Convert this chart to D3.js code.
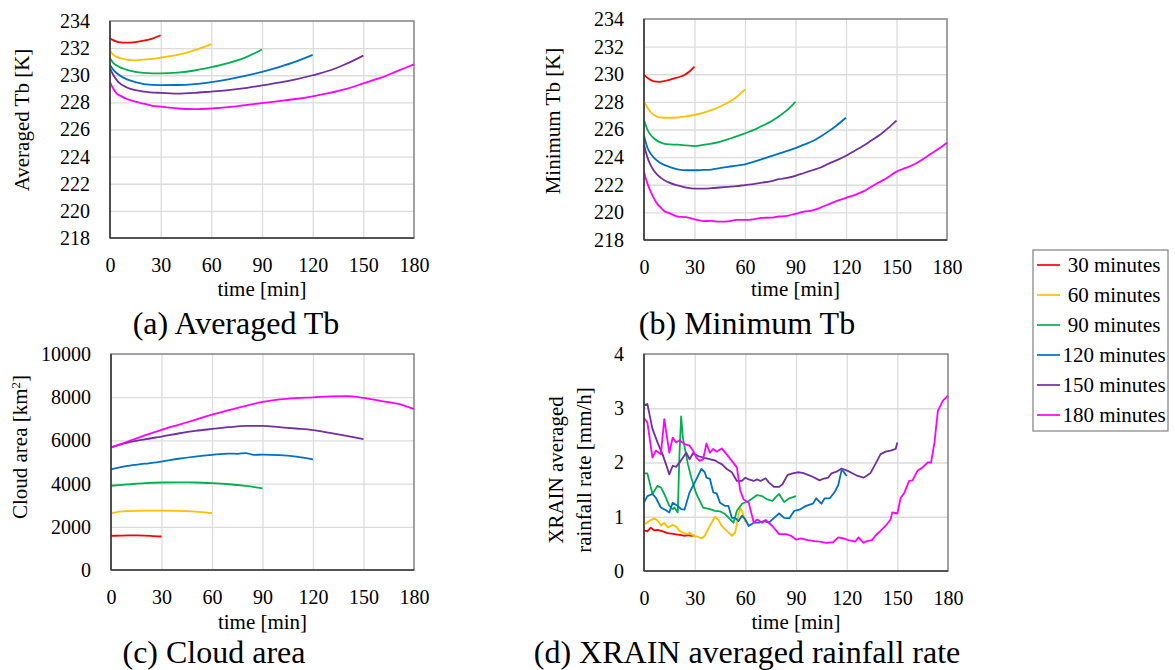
<!DOCTYPE html>
<html><head><meta charset="utf-8">
<script src="https://cdn.jsdelivr.net/npm/d3@7"></script>
<style>
html,body{margin:0;padding:0;background:#fff;}
svg text{font-family:"Liberation Serif","Times New Roman",serif;fill:#000;}
</style></head>
<body><svg id="c" width="1175" height="670"></svg>
<script>
// ---------- data ----------
const seriesNames = ["30 minutes","60 minutes","90 minutes","120 minutes","150 minutes","180 minutes"];
const seriesColors = ["#FF0000","#FFC000","#00B050","#0070C0","#7030A0","#FF00FF"];
const timeTicks = [0,30,60,90,120,150,180];
const tbTicks = [218,220,222,224,226,228,230,232,234];
const areaTicks = [0,2000,4000,6000,8000,10000];
const rainTicks = [0,1,2,3,4];

// (a) averaged Tb [K]
const avgTb30 = [[0,232.7],[5,232.45],[10,232.4],[15,232.45],[20,232.55],[25,232.7],[30,232.95]];
const avgTb60 = [[0,231.8],[2,231.5],[5,231.3],[10,231.15],[15,231.1],[20,231.15],[25,231.2],[30,231.3],[35,231.4],[40,231.5],[45,231.65],[50,231.85],[55,232.05],[60,232.3]];
const avgTb90 = [[0,231.25],[2,230.9],[5,230.65],[10,230.4],[15,230.25],[20,230.17],[25,230.14],[30,230.14],[40,230.2],[50,230.35],[60,230.6],[70,230.9],[80,231.3],[90,231.9]];
const avgTb120 = [[0,230.75],[2,230.4],[5,230.05],[10,229.7],[15,229.5],[20,229.35],[30,229.27],[40,229.28],[50,229.35],[60,229.5],[70,229.7],[80,229.95],[90,230.25],[100,230.6],[110,231.0],[120,231.5]];
const avgTb150 = [[0,230.5],[2,230.0],[5,229.5],[10,229.1],[15,228.9],[20,228.8],[30,228.7],[40,228.65],[50,228.7],[60,228.8],[70,228.9],[80,229.05],[90,229.25],[100,229.45],[110,229.7],[120,230.0],[130,230.35],[140,230.85],[150,231.45]];
const avgTb180 = [[0,229.5],[2,229.0],[4,228.65],[6,228.5],[10,228.25],[15,228.05],[20,227.9],[25,227.75],[30,227.68],[40,227.55],[50,227.5],[60,227.55],[70,227.65],[80,227.8],[90,227.95],[100,228.1],[110,228.25],[120,228.45],[130,228.7],[140,229.0],[150,229.4],[160,229.8],[170,230.3],[180,230.8]];

// (b) minimum Tb [K]
const minTb30 = [[0,229.95],[3,229.65],[6,229.48],[9,229.45],[12,229.5],[15,229.6],[18,229.7],[21,229.8],[24,229.95],[27,230.2],[30,230.55]];
const minTb60 = [[0,228.0],[2,227.6],[4,227.25],[6,227.05],[8,226.92],[10,226.87],[15,226.85],[20,226.87],[25,226.95],[30,227.05],[35,227.2],[40,227.4],[45,227.65],[50,227.95],[55,228.35],[60,228.9]];
const minTb90 = [[0,226.7],[2,226.0],[4,225.6],[6,225.35],[10,225.05],[15,224.92],[20,224.9],[25,224.85],[30,224.8],[35,224.88],[40,224.98],[45,225.1],[50,225.3],[55,225.5],[60,225.72],[65,225.95],[70,226.25],[75,226.55],[80,226.95],[85,227.4],[90,228.0]];
const minTb120 = [[0,225.55],[2,224.7],[4,224.25],[6,223.95],[10,223.55],[15,223.3],[20,223.12],[25,223.05],[30,223.05],[35,223.07],[40,223.1],[45,223.2],[50,223.3],[55,223.38],[60,223.48],[65,223.65],[70,223.85],[75,224.05],[80,224.25],[85,224.45],[90,224.65],[95,224.9],[100,225.15],[105,225.5],[110,225.9],[115,226.35],[120,226.85]];
const minTb150 = [[0,224.9],[2,224.0],[4,223.4],[6,223.0],[10,222.5],[15,222.15],[20,221.95],[25,221.8],[30,221.72],[35,221.72],[40,221.75],[45,221.8],[50,221.85],[55,221.9],[60,221.98],[65,222.05],[70,222.15],[75,222.25],[80,222.4],[85,222.5],[90,222.65],[95,222.85],[100,223.05],[105,223.25],[110,223.55],[115,223.8],[120,224.1],[125,224.45],[130,224.8],[135,225.2],[140,225.6],[145,226.1],[150,226.65]];
const minTb180 = [[0,222.9],[2,222.1],[4,221.5],[6,221.0],[8,220.6],[10,220.35],[12,220.1],[15,219.95],[20,219.7],[25,219.65],[30,219.5],[35,219.37],[40,219.38],[45,219.33],[50,219.35],[55,219.45],[60,219.45],[65,219.5],[70,219.6],[75,219.62],[80,219.7],[85,219.75],[90,219.9],[95,220.05],[100,220.15],[105,220.35],[110,220.6],[115,220.85],[120,221.05],[125,221.25],[130,221.5],[135,221.85],[140,222.2],[145,222.55],[150,222.95],[155,223.2],[160,223.45],[165,223.8],[170,224.2],[175,224.6],[180,225.05]];

// (c) cloud area [km2]
const area30 = [[0,1580],[5,1590],[10,1600],[15,1600],[20,1590],[25,1570],[30,1550]];
const area60 = [[0,2620],[5,2700],[10,2730],[20,2750],[30,2750],[40,2740],[50,2700],[60,2630]];
const area90 = [[0,3900],[10,3960],[20,4020],[30,4050],[40,4055],[50,4050],[60,4020],[70,3970],[80,3890],[90,3780]];
const area120 = [[0,4660],[10,4820],[20,4920],[30,5020],[40,5150],[50,5250],[60,5330],[70,5390],[75,5380],[80,5410],[85,5330],[90,5340],[100,5320],[110,5250],[120,5120]];
const area150 = [[0,5680],[10,5900],[20,6050],[30,6180],[40,6320],[50,6440],[60,6530],[70,6610],[80,6670],[90,6670],[100,6610],[110,6550],[120,6480],[130,6350],[140,6210],[150,6060]];
const area180 = [[0,5680],[10,5950],[20,6230],[30,6490],[40,6720],[50,6950],[60,7190],[70,7400],[80,7600],[90,7780],[100,7900],[110,7960],[120,7990],[130,8040],[140,8050],[150,7970],[160,7830],[170,7700],[180,7450]];

// (d) XRAIN averaged rainfall rate [mm/h]
const rain30 = [[0,0.75],[2,0.73],[4,0.80],[6,0.75],[8,0.76],[10,0.74],[12,0.72],[14,0.70],[16,0.69],[18,0.68],[20,0.67],[22,0.66],[24,0.65],[26,0.66],[28,0.65],[30,0.65]];
const rain60 = [[0,0.85],[3,0.92],[6,0.97],[8,0.93],[10,0.84],[12,0.89],[14,0.80],[17,0.85],[19,0.82],[21,0.74],[23,0.71],[26,0.68],[27,0.71],[29,0.65],[31,0.64],[34,0.60],[36,0.65],[39,0.83],[42,1.0],[44,0.95],[46,0.83],[49,0.74],[52,0.65],[54,0.71],[56,1.05],[57,1.17],[59,1.02],[60,0.9]];
const rain90 = [[0,1.80],[2,1.80],[5,1.42],[8,1.57],[10,1.54],[12,1.42],[15,1.2],[17,1.14],[18,1.17],[20,1.08],[21,2.15],[22,2.85],[23,2.46],[26,1.97],[28,1.72],[31,1.42],[35,1.17],[39,1.14],[42,1.11],[45,1.10],[48,1.05],[51,0.95],[53,0.89],[55,1.11],[58,1.24],[62,1.29],[67,1.40],[70,1.38],[73,1.32],[76,1.29],[78,1.36],[80,1.42],[83,1.27],[86,1.34],[90,1.38]];
const rain120 = [[0,1.26],[2,1.38],[5,1.42],[7,1.35],[10,1.17],[13,1.12],[15,1.08],[17,1.26],[20,1.2],[22,1.14],[24,1.13],[27,1.45],[30,1.63],[34,1.88],[36,1.82],[37,1.72],[39,1.70],[41,1.45],[43,1.43],[45,1.26],[48,1.2],[50,1.2],[52,0.98],[54,0.98],[56,0.92],[58,1.02],[60,0.95],[62,0.83],[65,0.89],[68,0.89],[71,0.92],[74,0.89],[77,0.98],[80,1.06],[83,0.98],[86,0.97],[89,1.11],[92,1.13],[96,1.2],[100,1.24],[102,1.34],[105,1.24],[107,1.34],[110,1.34],[113,1.46],[115,1.58],[117,1.86],[118,1.84],[120,1.75]];
const rain150 = [[0,3.05],[2,3.08],[5,2.62],[8,2.37],[11,2.15],[13,1.97],[15,1.78],[17,1.94],[19,1.92],[22,2.04],[25,2.18],[27,2.06],[29,2.17],[32,2.12],[35,2.09],[39,2.06],[42,2.04],[44,2.0],[46,1.97],[49,1.88],[52,1.82],[55,1.66],[58,1.66],[60,1.72],[62,1.69],[65,1.66],[67,1.69],[69,1.66],[72,1.71],[74,1.63],[77,1.55],[80,1.55],[82,1.60],[85,1.77],[88,1.80],[91,1.82],[94,1.81],[99,1.75],[104,1.67],[106,1.70],[109,1.72],[111,1.80],[114,1.83],[117,1.89],[121,1.84],[126,1.76],[130,1.72],[134,1.80],[137,1.97],[140,2.15],[143,2.2],[146,2.22],[149,2.25],[150,2.37]];
const rain180 = [[0,2.82],[2,2.74],[5,2.09],[7,2.22],[10,2.15],[12,2.8],[15,2.18],[17,2.46],[19,2.37],[21,2.41],[24,2.34],[27,2.31],[29,2.22],[31,2.09],[33,2.03],[35,2.06],[37,2.35],[39,2.18],[41,2.25],[43,2.20],[46,2.26],[49,2.15],[52,2.03],[55,1.91],[57,1.48],[59,1.32],[62,1.26],[65,0.89],[67,0.95],[70,0.89],[72,0.94],[76,0.83],[80,0.68],[84,0.68],[87,0.65],[90,0.58],[93,0.6],[97,0.57],[101,0.55],[104,0.54],[108,0.52],[112,0.53],[115,0.62],[118,0.6],[121,0.57],[124,0.55],[125,0.54],[127,0.62],[130,0.52],[132,0.55],[135,0.57],[137,0.65],[140,0.74],[143,0.83],[146,0.95],[147,1.08],[150,1.06],[152,1.35],[154,1.43],[157,1.66],[159,1.67],[162,1.85],[165,1.91],[168,2.0],[170,2.0],[172,2.37],[174,2.95],[177,3.14],[180,3.23]];

// ---------- layout ----------
const FONT_TICK = 20, FONT_TITLE = 21, FONT_CAP = 32;
const panels = [
  {x0:110,x1:414,y0:21,y1:238, dom:[218,234], ticks:tbTicks,
   series:[avgTb30,avgTb60,avgTb90,avgTb120,avgTb150,avgTb180], curve:d3.curveMonotoneX,
   ytitle:["Averaged Tb [K]"], ytX:[29], ytY:120, xtY:296, cap:"(a) Averaged Tb", capX:236, capY:334},
  {x0:644,x1:947,y0:19,y1:240, dom:[218,234], ticks:tbTicks,
   series:[minTb30,minTb60,minTb90,minTb120,minTb150,minTb180], curve:d3.curveMonotoneX,
   ytitle:["Minimum Tb [K]"], ytX:[560], ytY:121, xtY:296, cap:"(b) Minimum Tb", capX:747, capY:334},
  {x0:111,x1:414,y0:354,y1:570, dom:[0,10000], ticks:areaTicks,
   series:[area30,area60,area90,area120,area150,area180], curve:d3.curveMonotoneX,
   ytitle:["Cloud area [km|2|]"], ytX:[27], ytY:447, xtY:629, cap:"(c) Cloud area", capX:214, capY:663},
  {x0:644,x1:948,y0:354,y1:571, dom:[0,4], ticks:rainTicks,
   series:[rain30,rain60,rain90,rain120,rain150,rain180], curve:d3.curveLinear,
   ytitle:["XRAIN averaged","rainfall rate [mm/h]"], ytX:[563,591], ytY:470, xtY:629, cap:"(d) XRAIN averaged rainfall rate", capX:747, capY:663}
];

const svg = d3.select("#c");
svg.append("rect").attr("width",1175).attr("height",670).attr("fill","#fff");

panels.forEach(p => {
  const g = svg.append("g");
  const x = d3.scaleLinear().domain([timeTicks[0], timeTicks[timeTicks.length-1]]).range([p.x0,p.x1]);
  const y = d3.scaleLinear().domain(p.dom).range([p.y1,p.y0]);
  const w = p.x1-p.x0, h = p.y1-p.y0;

  // grid
  const gx = g.append("g").attr("transform",`translate(0,${p.y1})`)
    .call(d3.axisBottom(x).tickValues(timeTicks.slice(1,-1)).tickSize(-h).tickFormat(""));
  const gy = g.append("g").attr("transform",`translate(${p.x0},0)`)
    .call(d3.axisLeft(y).tickValues(p.ticks.slice(1,-1)).tickSize(-w).tickFormat(""));
  [gx,gy].forEach(a => { a.select(".domain").remove(); a.selectAll("line").attr("stroke","#dcdcdc").attr("stroke-width",1.3); });

  // frame
  g.append("rect").attr("x",p.x0).attr("y",p.y0).attr("width",w).attr("height",h)
    .attr("fill","none").attr("stroke","#8a8a8a").attr("stroke-width",1.6);

  // lines
  const line = d3.line().x(d=>x(d[0])).y(d=>y(d[1])).curve(p.curve);
  p.series.forEach((s,i) => {
    g.append("path").datum(s).attr("d",line).attr("fill","none")
      .attr("stroke",seriesColors[i]).attr("stroke-width",1.8).attr("stroke-linejoin","round");
  });

  // axes lines (left & bottom darker)
  g.append("line").attr("x1",p.x0).attr("x2",p.x0).attr("y1",p.y0).attr("y2",p.y1).attr("stroke","#3a3a3a").attr("stroke-width",1.6);
  g.append("line").attr("x1",p.x0).attr("x2",p.x1).attr("y1",p.y1).attr("y2",p.y1).attr("stroke","#3a3a3a").attr("stroke-width",1.6);

  // tick labels
  const ax = g.append("g").attr("transform",`translate(0,${p.y1})`)
    .call(d3.axisBottom(x).tickValues(timeTicks).tickSize(0).tickPadding(20).tickFormat(d3.format("d")));
  const ay = g.append("g").attr("transform",`translate(${p.x0},0)`)
    .call(d3.axisLeft(y).tickValues(p.ticks).tickSize(0).tickPadding(20).tickFormat(d3.format("d")));
  [ax,ay].forEach(a => {
    a.select(".domain").remove();
    a.selectAll("text").style("font-family",'"Liberation Serif","Times New Roman",serif')
      .style("font-size",FONT_TICK+"px").attr("fill","#000");
  });

  // x title
  g.append("text").attr("x",(p.x0+p.x1)/2).attr("y",p.xtY).attr("text-anchor","middle")
    .style("font-size",FONT_TITLE+"px").text("time [min]");

  // y title
  p.ytitle.forEach((t,k) => {
    const tx = g.append("text").attr("transform",`translate(${p.ytX[k]},${p.ytY}) rotate(-90)`)
      .attr("text-anchor","middle").style("font-size",FONT_TITLE+"px");
    const parts = t.split("|");
    tx.append("tspan").text(parts[0]);
    if (parts.length>1) {
      tx.append("tspan").attr("baseline-shift","super").style("font-size","13px").text(parts[1]);
      tx.append("tspan").text(parts[2]);
    }
  });

  // caption
  g.append("text").attr("x",p.capX).attr("y",p.capY).attr("text-anchor","middle")
    .style("font-size",FONT_CAP+"px").text(p.cap);
});

// legend
const lg = svg.append("g");
lg.append("rect").attr("x",1033).attr("y",250).attr("width",135).attr("height",181)
  .attr("fill","#fff").attr("stroke","#8a8a8a").attr("stroke-width",1.3);
const ly = d3.scalePoint().domain(seriesNames).range([265,415]);
seriesNames.forEach((n,i) => {
  lg.append("line").attr("x1",1037).attr("x2",1060).attr("y1",ly(n)).attr("y2",ly(n))
    .attr("stroke",seriesColors[i]).attr("stroke-width",1.7);
  lg.append("text").attr("x",1114).attr("y",ly(n)+7).attr("text-anchor","middle")
    .style("font-size","21px").text(n);
});
</script></body></html>
